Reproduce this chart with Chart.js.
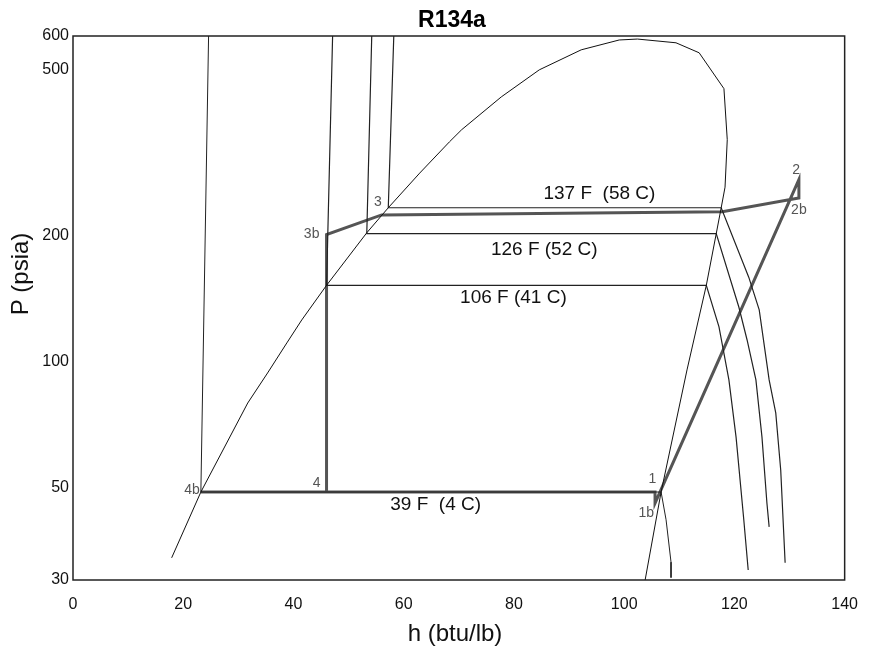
<!DOCTYPE html>
<html>
<head>
<meta charset="utf-8">
<script src="https://cdn.jsdelivr.net/npm/chart.js@4/dist/chart.umd.min.js"></script>
<style>
  body { margin: 0; background: #fff; }
  #wrap { width: 873px; height: 646px; }
</style>
</head>
<body>
<div id="wrap"><canvas id="chart-ph" width="873" height="646"></canvas></div>
<script>
// h (btu/lb), P (psia) pairs
const saturationDome = [[17.9,33.9],[23.2,48.7],[31.7,79.5],[35.3,93.8],[38.8,110.7],[41.5,125.6],[46.0,152],
  [53.3,203],[57.2,233],[62.9,282],[68.3,335],[70.5,358],[77.7,429],[84.6,498],[92.2,556],[99.1,587],
  [102.4,590],[109.4,578],[113.6,547],[118.1,449],[118.7,339],[118.3,261],[117.6,233],[116.7,202],
  [114.9,152],[111.4,95.4],[106.7,48.7],[103.8,30]];

const iso39F = [[24.6,600],[23.2,48.7],[106.7,48.7],[107.6,41.8],[108.5,33.1],[108.5,30.4]];
const iso106F = [[47.1,600],[46.0,152],[114.9,152],[117.2,120.9],[119.0,90.3],[120.3,65.9],[121.7,41.8],[122.5,31.7]];
const iso126F = [[54.2,600],[53.3,202],[116.7,202],[120.8,134.9],[122.3,112.5],[123.9,90.3],[125.0,65.9],[125.9,45.8],[126.3,40.2]];
const iso137F = [[58.2,600],[57.2,233],[117.6,233],[122.6,159],[124.5,132.8],[126.3,90.3],[127.5,75.3],[128.4,55.0],[129.2,33.0]];

const cycle = [[23.2,48.7],[105.6,48.7],[105.6,45.8],[131.7,272],[131.7,246],[117.8,228],[56.0,224],[46.0,201],[46.0,48.7]];

const pointLabels = ['3','3b','4b','4','1','1b','2','2b'];
const pointLabelPos = [[55.3,240.8],[43.3,201.7],[21.6,49.2],[44.2,51.2],[105.1,52.3],[104.0,43.4],[131.2,287],[131.7,230]];

const isoLabels = ['137 F  (58 C)','126 F (52 C)','106 F (41 C)','39 F  (4 C)'];
const isoLabelPos = [[95.5,251],[85.5,184.8],[79.9,141.9],[65.8,45.4]];

const xTicks = [0,20,40,60,80,100,120,140];
const yTicks = [30,50,100,200,500,600];

const FONT = "'Liberation Sans', Arial, sans-serif";

function toPoints(arr) {
  return arr.map(p => ({ x: p[0], y: p[1] }));
}

function line(arr, color, width) {
  return {
    data: toPoints(arr),
    showLine: true,
    borderColor: color,
    borderWidth: width,
    pointRadius: 0,
    tension: 0,
    fill: false
  };
}

const textPlugin = {
  id: "texts",
  afterDraw(chart) {
    const ctx = chart.ctx;
    const xs = chart.scales.x, ys = chart.scales.y;
    const a = chart.chartArea;
    ctx.save();

    // plot frame
    ctx.strokeStyle = "#222";
    ctx.lineWidth = 1.5;
    ctx.strokeRect(a.left, a.top, a.right - a.left, a.bottom - a.top);

    ctx.textAlign = "center";
    ctx.textBaseline = "middle";

    // title
    ctx.fillStyle = "#000";
    ctx.font = "bold 23px " + FONT;
    ctx.fillText("R134a", 452, 21);

    // axis titles
    ctx.fillStyle = "#111";
    ctx.font = "24px " + FONT;
    ctx.fillText("h (btu/lb)", 455, 634);
    ctx.save();
    ctx.translate(21, 274);
    ctx.rotate(-Math.PI / 2);
    ctx.fillText("P (psia)", 0, 0);
    ctx.restore();

    // isotherm labels
    ctx.fillStyle = "#111";
    ctx.font = "19px " + FONT;
    isoLabels.forEach((t, i) => {
      ctx.fillText(t, xs.getPixelForValue(isoLabelPos[i][0]), ys.getPixelForValue(isoLabelPos[i][1]));
    });

    // state point labels
    ctx.fillStyle = "#555";
    ctx.font = "14px " + FONT;
    pointLabels.forEach((t, i) => {
      ctx.fillText(t, xs.getPixelForValue(pointLabelPos[i][0]), ys.getPixelForValue(pointLabelPos[i][1]));
    });

    ctx.restore();
  }
};

function renderChart() {
  const ctx = document.getElementById("chart-ph").getContext("2d");

  new Chart(ctx, {
    type: "scatter",
    data: {
      datasets: [
        line(saturationDome, "#111", 1),
        line(iso39F, "#222", 1),
        line(iso106F, "#222", 1.2),
        line(iso126F, "#222", 1.2),
        line(iso137F, "#222", 1.2),
        line(cycle, "#555", 3)
      ]
    },
    options: {
      responsive: false,
      animation: false,
      devicePixelRatio: 1,
      events: [],
      layout: { padding: { top: 36, right: 28, bottom: 0, left: 0 } },
      plugins: {
        legend: { display: false },
        tooltip: { enabled: false },
        title: { display: false }
      },
      scales: {
        x: {
          type: "linear",
          min: 0,
          max: 140,
          afterBuildTicks: s => { s.ticks = xTicks.map(v => ({ value: v })); },
          afterFit: s => { s.height = 66; },
          grid: { display: false, drawTicks: false },
          border: { display: false },
          ticks: { font: { family: FONT, size: 16 }, color: "#111", padding: 15, maxRotation: 0 }
        },
        y: {
          type: "logarithmic",
          min: 30,
          max: 600,
          afterBuildTicks: s => { s.ticks = yTicks.map(v => ({ value: v })); },
          afterFit: s => { s.width = 73; },
          grid: { display: false, drawTicks: false },
          border: { display: false },
          ticks: { font: { family: FONT, size: 16 }, color: "#111", padding: 4, callback: v => String(v) }
        }
      }
    },
    plugins: [textPlugin]
  });
}

document.addEventListener("DOMContentLoaded", renderChart);
</script>
</body>
</html>
